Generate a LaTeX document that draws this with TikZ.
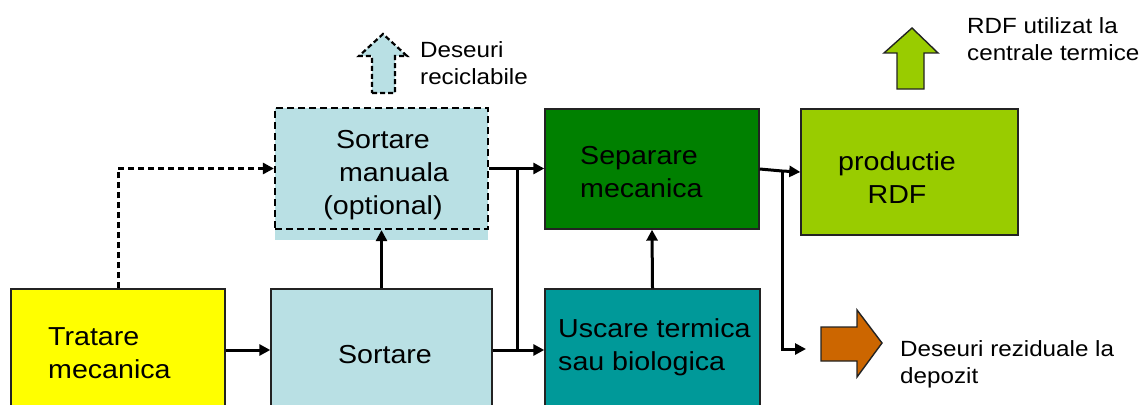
\documentclass[tikz,border=0pt]{standalone}
\usepackage{fontspec}
\setmainfont{Liberation Sans}[FakeStretch=1.1]
\usetikzlibrary{arrows.meta}
\definecolor{lblue}{RGB}{185,224,228}
\definecolor{yel}{RGB}{255,255,0}
\definecolor{dgreen}{RGB}{0,128,0}
\definecolor{teal2}{RGB}{0,153,153}
\definecolor{lime2}{RGB}{153,204,0}
\definecolor{orng}{RGB}{204,102,0}
\definecolor{bordc}{RGB}{35,35,35}
\tikzset{
  boxnode/.style={draw=bordc, line width=1.4pt, inner sep=0pt, rectangle},
  bigtxt/.style={font=\fontsize{26}{33}\selectfont, inner sep=0pt, align=left},
  smalltxt/.style={font=\fontsize{22}{26.5}\selectfont, inner sep=0pt, align=left},
  conn/.style={line width=3pt},
  arr/.style={line width=3pt, -{Triangle[length=11pt,width=11pt]}},
  dasharr/.style={line width=3pt, dash pattern=on 6pt off 4pt, -{Triangle[length=11pt,width=11pt]}},
}
\begin{document}
\begin{tikzpicture}[x=1pt,y=-1pt]
\useasboundingbox (0,0) rectangle (1139,404);
\clip (0,0) rectangle (1139,404);
% boxes
\node[boxnode, fill=yel, minimum width=214pt, minimum height=122pt] (trat) at (118,350) {};
\node[boxnode, fill=lblue, minimum width=221pt, minimum height=122pt] (sort) at (381.5,350) {};
\fill[lblue] (275,108) rectangle (488,240);
\node[rectangle, inner sep=0pt, draw=black, line width=2.2pt, dash pattern=on 7pt off 4pt, minimum width=213pt, minimum height=121pt] (man) at (381.5,168.5) {};
\node[boxnode, fill=dgreen, minimum width=214pt, minimum height=120pt] (sep) at (652,169) {};
\node[boxnode, fill=teal2, minimum width=215pt, minimum height=122pt] (usc) at (652.5,350) {};
\node[boxnode, fill=lime2, minimum width=217pt, minimum height=126pt] (rdf) at (909.5,172) {};
% texts (anchor = baseline of the last line)
\node[bigtxt, anchor=base west] (trattxt) at (48,378) {Tratare\\mecanica};
\node[bigtxt, anchor=base] (sorttxt) at (385,363) {Sortare};
\node[bigtxt, anchor=base, align=center] (mantxt) at (383,214) {Sortare\\\hspace*{22pt}manuala\\(optional)};
\node[bigtxt, anchor=base west] (septxt) at (580,197) {Separare\\mecanica};
\node[bigtxt, anchor=base, align=center] (rdftxt) at (897,203) {productie\\RDF};
\node[bigtxt, anchor=base west] (usctxt) at (558,370) {Uscare termica\\sau biologica};
\node[smalltxt, anchor=base west] (rectxt) at (420,84) {Deseuri\\reciclabile};
\node[smalltxt, anchor=base west] (rdfout) at (967,60) {RDF utilizat la\\centrale termice};
\node[smalltxt, anchor=base west] (rezid) at (900,383) {Deseuri reziduale la\\depozit};
% block arrows
\filldraw[fill=lblue, draw=black, line width=2.2pt, dash pattern=on 5pt off 3pt, line join=miter]
  (372,93) -- (395,93) -- (395,56) -- (407,56) -- (383,34) -- (359,56) -- (372,56) -- cycle;
\filldraw[fill=lime2, draw=bordc, line width=1.4pt]
  (897,89) -- (924,89) -- (924,53) -- (938,53) -- (912,28) -- (884,53) -- (897,53) -- cycle;
\filldraw[fill=orng, draw=bordc, line width=1.4pt]
  (821,327) -- (857,327) -- (857,310) -- (882,343) -- (857,377) -- (857,361) -- (821,361) -- cycle;
% connectors
\draw[arr] (trat.east) -- (sort.west);
\draw[dasharr] (trat.north) |- (man.west);
\draw[arr] (sort.north) -- (man.south);
\draw[arr] (man.east) -- (man.east -| sep.west);
\coordinate (j1) at (517,168.5);
\draw[conn] (j1) -- (j1 |- sort.east);
\draw[arr] (sort.east) -- (usc.west);
\draw[arr] (usc.north) -- (sep.south);
\coordinate (j2) at (782,171);
\draw[arr] (sep.east) -- (j2) -- (rdf.west);
\coordinate (e2) at (806,349);
\draw[arr] (j2) |- (e2);
\end{tikzpicture}
\end{document}
